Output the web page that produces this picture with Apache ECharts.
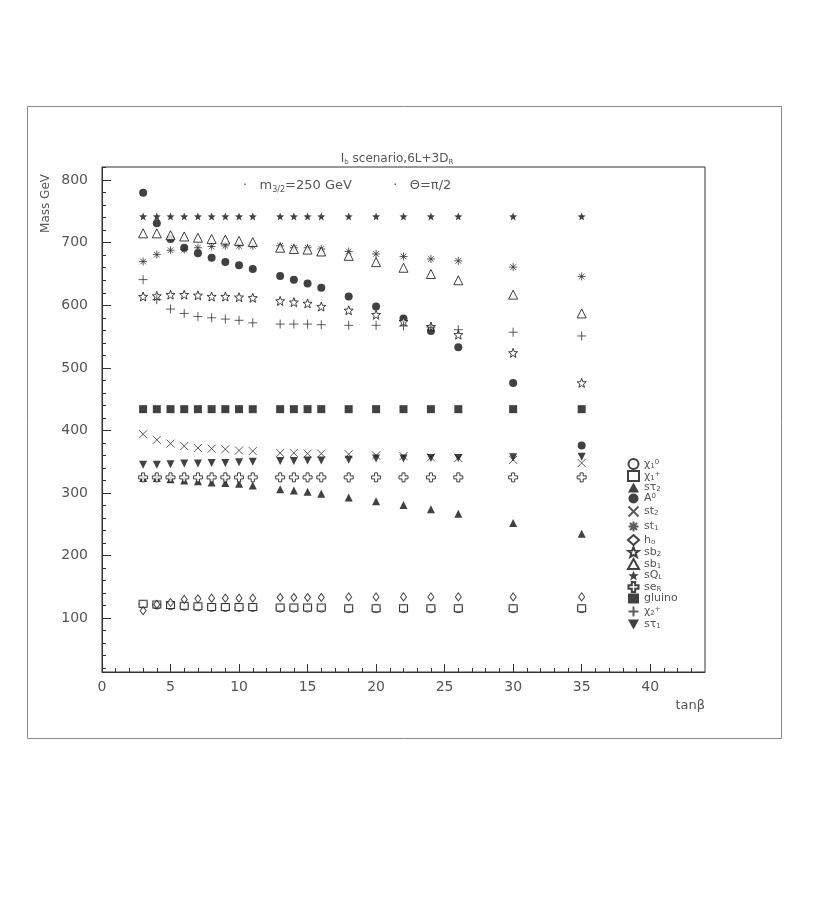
<!DOCTYPE html>
<html>
<head>
<meta charset="utf-8">
<script src="https://cdn.jsdelivr.net/npm/echarts@6/dist/echarts.min.js"></script>
<style>
  html, body { margin: 0; padding: 0; background: #fff; }
  #chart { width: 830px; height: 900px; }
</style>
</head>
<body>
<div id="chart"></div>
<script>
// tan(beta) points of the scan
const tanb = [3, 4, 5, 6, 7, 8, 9, 10, 11, 13, 14, 15, 16, 18, 20, 22, 24, 26, 30, 35];

// masses in GeV
const chi10  = [122, 121, 120, 119, 118, 117, 117, 117, 117, 116, 116, 116, 116, 115, 115, 115, 115, 115, 115, 115];
const chi1p  = [123, 122, 121, 120, 119, 118, 118, 118, 118, 117, 117, 117, 117, 116, 116, 116, 116, 116, 116, 116];
const stau2  = [324, 324, 322, 320, 319, 317, 316, 315, 312, 306, 304, 302, 299, 293, 287, 281, 274, 267, 252, 235];
const A0     = [780, 731, 706, 692, 683, 676, 669, 664, 658, 647, 641, 635, 628, 614, 598, 579, 559, 533, 476, 376];
const st2    = [394, 385, 379, 375, 372, 371, 370, 368, 367, 364, 364, 363, 363, 362, 360, 359, 357, 356, 353, 348];
const st1    = [670, 681, 688, 689, 692, 694, 695, 695, 695, 695, 692, 692, 690, 686, 682, 678, 674, 671, 661, 646];
const h0     = [112, 122, 125, 130, 131, 132, 132, 132, 132, 133, 133, 133, 133, 134, 134, 134, 134, 134, 134, 134];
const sb2    = [614, 615, 617, 617, 616, 614, 614, 613, 612, 607, 605, 603, 598, 592, 585, 574, 566, 553, 524, 476];
const sb1    = [715, 715, 712, 710, 708, 706, 705, 703, 701, 692, 690, 689, 686, 679, 669, 660, 650, 640, 617, 587];
const sQL    = [742, 742, 742, 742, 742, 742, 742, 742, 742, 742, 742, 742, 742, 742, 742, 742, 742, 742, 742, 742];
const seR    = [325, 325, 325, 325, 325, 325, 325, 325, 325, 325, 325, 325, 325, 325, 325, 325, 325, 325, 325, 325];
const gluino = [434, 434, 434, 434, 434, 434, 434, 434, 434, 434, 434, 434, 434, 434, 434, 434, 434, 434, 434, 434];
const chi2p  = [641, 609, 594, 587, 582, 580, 578, 576, 572, 570, 570, 570, 569, 568, 568, 567, 565, 561, 557, 551];
const stau1  = [345, 345, 346, 347, 347, 348, 348, 349, 350, 351, 351, 352, 352, 353, 355, 355, 356, 356, 357, 358];

const yMajor = [100, 200, 300, 400, 500, 600, 700, 800];
const xMajor = [0, 5, 10, 15, 20, 25, 30, 35, 40];

// minor ticks
const yMinor = [];
for (let v = 20; v <= 820; v += 20) if (v % 100 !== 0) yMinor.push(v);
const xMinor = [];
for (let v = 1; v <= 43; v++) if (v % 5 !== 0) xMinor.push(v);

const txt = '#555';
const ink = '#111';

function starPath() {
  const pts = [];
  for (let i = 0; i < 10; i++) {
    const r = i % 2 ? 0.42 : 1;
    const a = -Math.PI / 2 + i * Math.PI / 5;
    pts.push((5 + 5 * r * Math.cos(a)).toFixed(2) + ',' + (5 + 5 * r * Math.sin(a)).toFixed(2));
  }
  return 'path://M' + pts.join('L') + 'Z';
}
const STAR = starPath();
const XMARK = 'path://M0,0L10,10M10,0L0,10';
const ASTER = 'path://M0,5L10,5M5,0L5,10M1.5,1.5L8.5,8.5M8.5,1.5L1.5,8.5';
const PLUS = 'path://M0,5L10,5M5,0L5,10';
const CROSS = 'path://M3.3,0L6.7,0L6.7,3.3L10,3.3L10,6.7L6.7,6.7L6.7,10L3.3,10L3.3,6.7L0,6.7L0,3.3L3.3,3.3Z';
const DOWNTRI = 'path://M0,0L10,0L5,9Z';

const open = { color: '#fff', borderColor: ink, borderWidth: 1 };
const solid = { color: ink };
const lines = { color: 'none', borderColor: '#333', borderWidth: 1 };

// legend order as in the plot
const defs = [
  { name: 'chi10',  label: 'χ{sub|1}{sup|0}', data: chi10,  symbol: 'circle', size: 8, style: open },
  { name: 'chi1p',  label: 'χ{sub|1}{sup|+}', data: chi1p,  symbol: 'rect', size: [8, 7], style: open },
  { name: 'stau2',  label: 'sτ{sub|2}',       data: stau2,  symbol: 'triangle', size: 8, style: solid },
  { name: 'A0',     label: 'A{sup|0}',        data: A0,     symbol: 'circle', size: 8, style: solid },
  { name: 'st2',    label: 'st{sub|2}',       data: st2,    symbol: XMARK, size: 8, style: lines },
  { name: 'st1',    label: 'st{sub|1}',       data: st1,    symbol: ASTER, size: 8, style: lines },
  { name: 'h0',     label: 'h{sub|o}',        data: h0,     symbol: 'diamond', size: [6, 8], style: open },
  { name: 'sb2',    label: 'sb{sub|2}',       data: sb2,    symbol: STAR, size: 9, style: open },
  { name: 'sb1',    label: 'sb{sub|1}',       data: sb1,    symbol: 'triangle', size: 9, style: open },
  { name: 'sQL',    label: 'sQ{sub|L}',       data: sQL,    symbol: STAR, size: 8, style: solid },
  { name: 'seR',    label: 'se{sub|R}',       data: seR,    symbol: CROSS, size: 9, style: open },
  { name: 'gluino', label: 'gluino',          data: gluino, symbol: 'rect', size: 8, style: solid },
  { name: 'chi2p',  label: 'χ{sub|2}{sup|+}', data: chi2p,  symbol: PLUS, size: 9, style: lines },
  { name: 'stau1',  label: 'sτ{sub|1}',       data: stau1,  symbol: DOWNTRI, size: 8, style: solid }
];
const labelOf = {};
defs.forEach(d => { labelOf[d.name] = d.label; });

const series = defs.map(d => ({
  type: 'scatter',
  name: d.name,
  symbol: d.symbol,
  symbolSize: d.size,
  itemStyle: d.style,
  data: tanb.map((t, i) => [t, d.data[i]]),
  silent: true
}));

const chart = echarts.init(document.getElementById('chart'), null, { renderer: 'canvas' });
chart.setOption({
  animation: false,
  backgroundColor: '#fff',
  title: [
    {
      text: 'I{sub|b} scenario,6L+3D{sub|R}',
      left: 392, top: 147, textAlign: 'center',
      textStyle: {
        fontFamily: 'DejaVu Sans', fontSize: 12, fontWeight: 'normal', color: txt,
        rich: { sub: { fontSize: 7, verticalAlign: 'bottom', lineHeight: 14, color: txt } }
      }
    },
    {
      text: '·   m{sub|3/2}=250 GeV          ·   Θ=π/2',
      left: 238, top: 173,
      textStyle: {
        fontFamily: 'DejaVu Sans', fontSize: 13, fontWeight: 'normal', color: txt,
        rich: { sub: { fontSize: 8, verticalAlign: 'bottom', lineHeight: 16, color: txt } }
      }
    }
  ],
  legend: {
    orient: 'vertical',
    left: 621, top: 453,
    itemWidth: 11, itemHeight: 10, itemGap: 0,
    selectedMode: false,
    data: defs.map(d => ({ name: d.name, icon: d.symbol })),
    formatter: name => labelOf[name],
    textStyle: {
      fontFamily: 'DejaVu Sans', fontSize: 11, color: txt, lineHeight: 11,
      rich: {
        sub: { fontSize: 7, verticalAlign: 'bottom', lineHeight: 11, color: txt },
        sup: { fontSize: 7, verticalAlign: 'top', lineHeight: 11, color: txt }
      }
    }
  },
  grid: {
    left: 102, right: 125, top: 167, bottom: 228,
    show: true, borderColor: '#333', borderWidth: 1,
    outerBoundsMode: 'none'
  },
  xAxis: [
    {
      type: 'value', min: 0, max: 44, position: 'bottom',
      axisLine: { onZero: false, lineStyle: { color: '#333' } },
      axisTick: { inside: true, length: 8, customValues: xMajor, lineStyle: { color: '#333' } },
      axisLabel: { customValues: xMajor, fontFamily: 'DejaVu Sans', fontSize: 14, color: txt, margin: 8 },
      splitLine: { show: false }
    },
    {
      type: 'value', min: 0, max: 44, position: 'bottom',
      axisLine: { show: false, onZero: false },
      axisTick: { inside: true, length: 4, customValues: xMinor, lineStyle: { color: '#333' } },
      axisLabel: { show: false },
      splitLine: { show: false }
    }
  ],
  yAxis: [
    {
      type: 'value', min: 14, max: 821, position: 'left',
      axisLine: { onZero: false, lineStyle: { color: '#333' } },
      axisTick: { inside: true, length: 9, customValues: yMajor, lineStyle: { color: '#333' } },
      axisLabel: { customValues: yMajor, fontFamily: 'DejaVu Sans', fontSize: 14, color: txt, margin: 14 },
      splitLine: { show: false }
    },
    {
      type: 'value', min: 14, max: 821, position: 'left',
      axisLine: { show: false, onZero: false },
      axisTick: { inside: true, length: 4, customValues: yMinor, lineStyle: { color: '#333' } },
      axisLabel: { show: false },
      splitLine: { show: false }
    }
  ],
  graphic: [
    {
      type: 'rect', silent: true,
      shape: { x: 27.5, y: 106.5, width: 754, height: 632 },
      style: { fill: 'none', stroke: '#888', lineWidth: 1 }
    },
    {
      type: 'text', silent: true, x: 46, y: 174, rotation: Math.PI / 2,
      style: { text: 'Mass GeV', align: 'right', verticalAlign: 'middle', fontFamily: 'DejaVu Sans', fontSize: 12, fill: txt }
    },
    {
      type: 'text', silent: true, x: 705, y: 706,
      style: { text: 'tanβ', align: 'right', verticalAlign: 'middle', fontFamily: 'DejaVu Sans', fontSize: 13, fill: txt }
    }
  ],
  series: series
});
</script>
</body>
</html>
